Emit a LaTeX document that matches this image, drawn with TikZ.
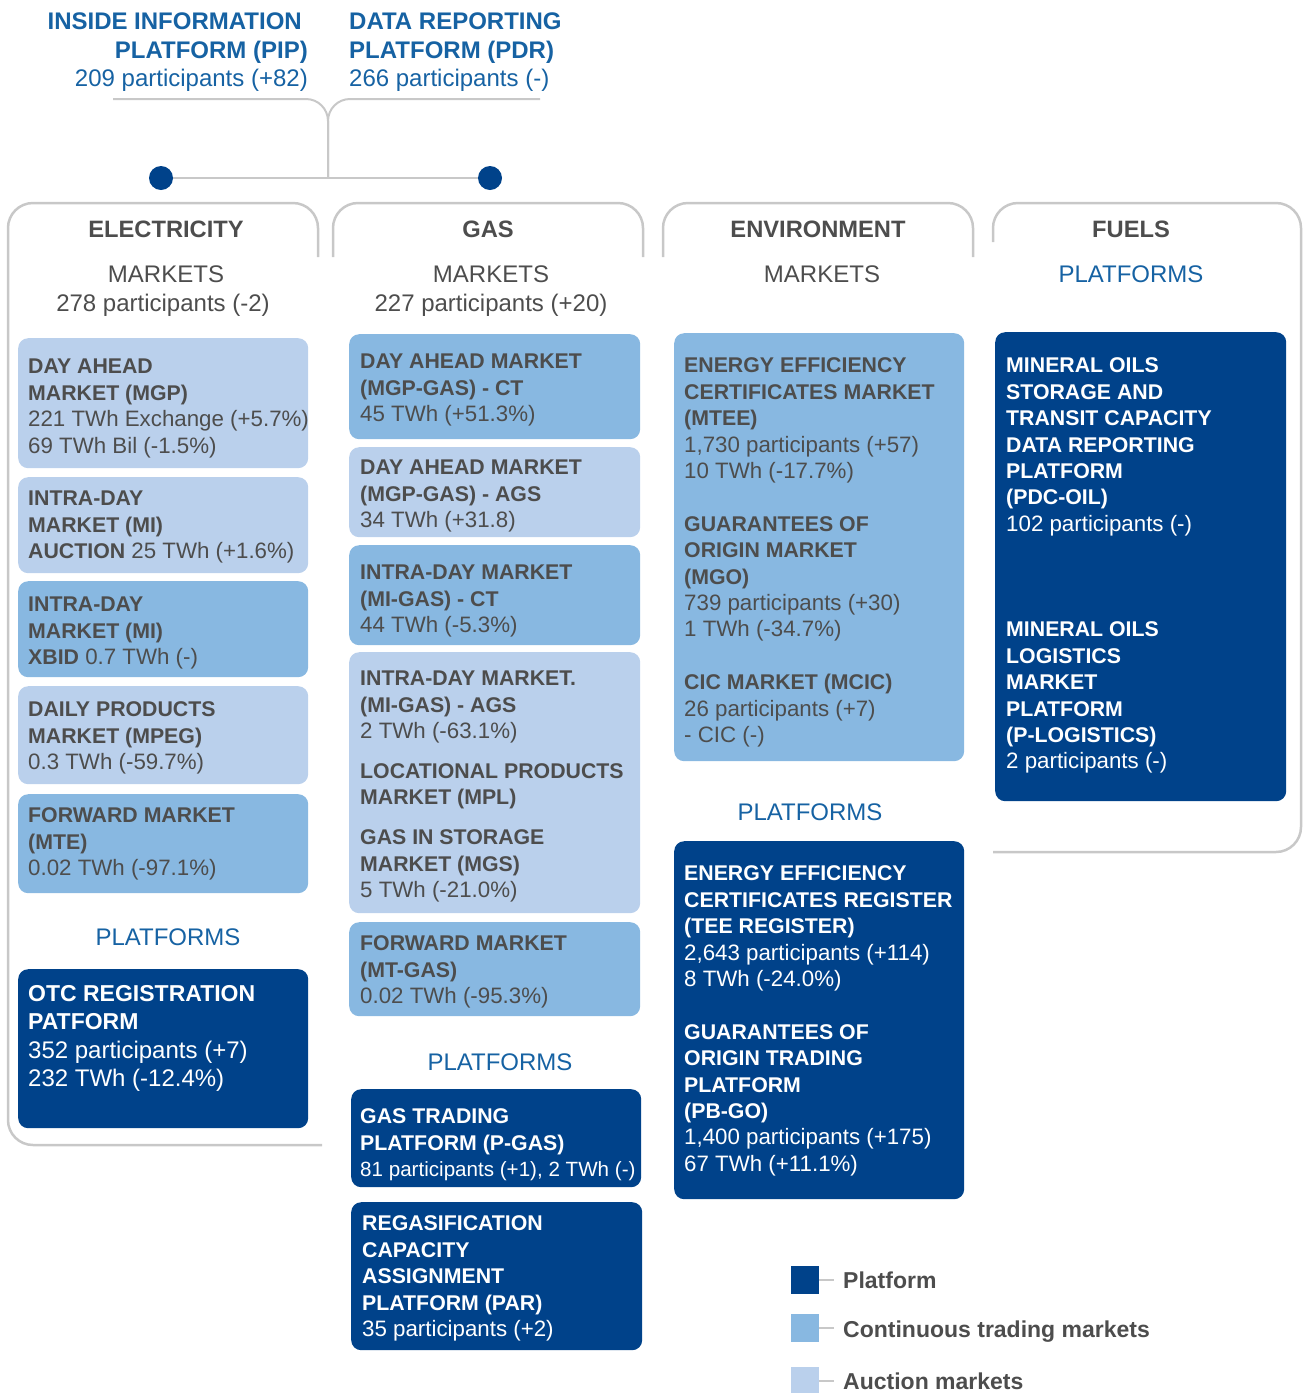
\documentclass[tikz,border=0pt]{standalone}
\usepackage{fontspec}
\setmainfont{Liberation Sans}
\definecolor{cPlat}{RGB}{0,66,138}
\definecolor{cCont}{RGB}{136,184,225}
\definecolor{cAuc}{RGB}{186,208,236}
\definecolor{cGray}{RGB}{77,77,77}
\definecolor{cBlue}{RGB}{22,98,163}
\definecolor{cLine}{RGB}{200,200,200}
\newcommand\tstr{\rule{0pt}{20pt}}
\newcommand\hb[1]{{\fontsize{21.3}{26.4}\selectfont\bfseries #1}}
\newcommand\hbb[1]{{\fontsize{23}{28.3}\selectfont\bfseries #1}}
\tikzset{
  mbox/.style={rounded corners=10pt, inner sep=0pt, anchor=north west, draw=none},
  plat/.style={mbox, fill=cPlat},
  cont/.style={mbox, fill=cCont},
  auc/.style={mbox, fill=cAuc},
  btxt/.style={anchor=north west, inner sep=0pt, align=left, text=cGray, font=\fontsize{22.3}{26.4}\selectfont},
  wtxt/.style={btxt, text=white},
  frame/.style={draw=cLine, line width=2.5pt, rounded corners=25pt},
  tree/.style={draw=cLine, line width=2pt},
  dot/.style={circle, fill=cPlat, minimum size=24pt, inner sep=0pt},
  colhead/.style={anchor=base, inner sep=0pt, text=cGray, font=\fontsize{23.7}{28}\selectfont\bfseries},
  colsub/.style={anchor=base, inner sep=0pt, text=cGray, font=\fontsize{24}{28}\selectfont},
  bluesub/.style={anchor=base, inner sep=0pt, text=cBlue, font=\fontsize{24}{28}\selectfont},
  toptxt/.style={inner sep=0pt, text=cBlue, font=\fontsize{24}{28.5}\selectfont},
  lsq/.style={minimum size=28pt, inner sep=0pt},
  legtxt/.style={anchor=base west, inner sep=0pt, text=cGray, font=\fontsize{23}{28}\selectfont\bfseries}
}
\begin{document}
\begin{tikzpicture}[x=1pt,y=-1pt]
\useasboundingbox (0,0) rectangle (1303,1393);

% ---------- top platforms ----------
\node[toptxt, anchor=north east, align=right] (pip) at (308,9.6)
  {\tstr\textbf{INSIDE INFORMATION}\hspace*{6pt}\\ \textbf{PLATFORM (PIP)}\\ 209 participants (+82)};
\node[toptxt, anchor=north west, align=left] (pdr) at (349,9.6)
  {\tstr\textbf{DATA REPORTING}\\ \textbf{PLATFORM (PDR)}\\ 266 participants (-)};
\coordinate (pipEnd) at (113,99);
\coordinate (pdrEnd) at (540,99);
\coordinate (hub) at (328,178);
\node[dot] (dotE) at (161,178) {};
\node[dot] (dotG) at (490,178) {};
\draw[tree, rounded corners=22pt] (pipEnd) -- (328,99) -- (hub);
\draw[tree, rounded corners=22pt] (pdrEnd) -- (328,99) -- (hub);
\draw[tree] (dotE) -- (dotG);

% ---------- column frames ----------
\draw[frame] (318,257) -- (318,203) -- (8,203) -- (8,1145) -- (322,1145);
\draw[frame] (333,257) -- (333,203) -- (643,203) -- (643,257);
\draw[frame] (663,257) -- (663,203) -- (973,203) -- (973,257);
\draw[frame] (993,242) -- (993,203) -- (1301,203) -- (1301,852) -- (993,852);

% ---------- column headers ----------
\node[colhead] (hE) at (166,237.5) {ELECTRICITY};
\node[colhead] (hG) at (488,237.5) {GAS};
\node[colhead] (hV) at (818,237.5) {ENVIRONMENT};
\node[colhead] (hF) at (1131,237.5) {FUELS};
\node[colsub] (mE) at (166,282.6) {MARKETS};
\node[colsub] (mG) at (491,282.6) {MARKETS};
\node[colsub] (mV) at (822,282.6) {MARKETS};
\node[bluesub] (pF) at (1131,282.6) {PLATFORMS};
\node[colsub] (nE) at (163,311.6) {278 participants (-2)};
\node[colsub] (nG) at (491,311.6) {227 participants (+20)};

% ---------- electricity ----------
\node[auc, minimum width=290, minimum height=130] (e1) at (18,338) {};
\node[btxt] (e1t) at (28,353.6) {\tstr\hb{DAY AHEAD}\\ \hb{MARKET (MGP)}\\ 221 TWh Exchange (+5.7\%)\\ 69 TWh Bil (-1.5\%)};
\node[auc, minimum width=290, minimum height=96] (e2) at (18,477) {};
\node[btxt] (e2t) at (28,485.6) {\tstr\hb{INTRA-DAY}\\ \hb{MARKET (MI)}\\ \hb{AUCTION} 25 TWh (+1.6\%)};
\node[cont, minimum width=290, minimum height=96] (e3) at (18,581) {};
\node[btxt] (e3t) at (28,591.6) {\tstr\hb{INTRA-DAY}\\ \hb{MARKET (MI)}\\ \hb{XBID} 0.7 TWh (-)};
\node[auc, minimum width=290, minimum height=98] (e4) at (18,686) {};
\node[btxt] (e4t) at (28,696.6) {\tstr\hb{DAILY PRODUCTS}\\ \hb{MARKET (MPEG)}\\ 0.3 TWh (-59.7\%)};
\node[cont, minimum width=290, minimum height=99] (e5) at (18,794) {};
\node[btxt] (e5t) at (28,802.6) {\tstr\hb{FORWARD MARKET}\\ \hb{(MTE)}\\ 0.02 TWh (-97.1\%)};
\node[bluesub] (plE) at (168,945.6) {PLATFORMS};
\node[plat, minimum width=290, minimum height=159] (e6) at (18,969) {};
\node[wtxt, font=\fontsize{24}{28.3}\selectfont] (e6t) at (28,981.2) {\tstr\hbb{OTC REGISTRATION}\\ \hbb{PATFORM}\\ 352 participants (+7)\\ 232 TWh (-12.4\%)};

% ---------- gas ----------
\node[cont, minimum width=291, minimum height=105] (g1) at (349,334) {};
\node[btxt] (g1t) at (360,348.6) {\tstr\hb{DAY AHEAD MARKET}\\ \hb{(MGP-GAS) - CT}\\ 45 TWh (+51.3\%)};
\node[auc, minimum width=291, minimum height=90] (g2) at (349,447) {};
\node[btxt] (g2t) at (360,454.6) {\tstr\hb{DAY AHEAD MARKET}\\ \hb{(MGP-GAS) - AGS}\\ 34 TWh (+31.8)};
\node[cont, minimum width=291, minimum height=100] (g3) at (349,545) {};
\node[btxt] (g3t) at (360,559.6) {\tstr\hb{INTRA-DAY MARKET}\\ \hb{(MI-GAS) - CT}\\ 44 TWh (-5.3\%)};
\node[auc, minimum width=291, minimum height=261] (g4) at (349,652) {};
\node[btxt] (g4t) at (360,665.6) {\tstr\hb{INTRA-DAY MARKET.}\\ \hb{(MI-GAS) - AGS}\\ 2 TWh (-63.1\%)\\[13.5pt] \hb{LOCATIONAL PRODUCTS}\\ \hb{MARKET (MPL)}\\[13.5pt] \hb{GAS IN STORAGE}\\ \hb{MARKET (MGS)}\\ 5 TWh (-21.0\%)};
\node[cont, minimum width=291, minimum height=94] (g5) at (349,922) {};
\node[btxt] (g5t) at (360,930.6) {\tstr\hb{FORWARD MARKET}\\ \hb{(MT-GAS)}\\ 0.02 TWh (-95.3\%)};
\node[bluesub] (plG) at (500,1070.6) {PLATFORMS};
\node[plat, minimum width=290, minimum height=98] (g6) at (351,1089) {};
\node[wtxt] (g6t) at (360,1103.6) {\tstr\hb{GAS TRADING}\\ \hb{PLATFORM (P-GAS)}\\ {\fontsize{20.6}{26.4}\selectfont 81 participants (+1), 2 TWh (-)}};
\node[plat, minimum width=291, minimum height=148] (g7) at (351,1202) {};
\node[wtxt] (g7t) at (362,1210.6) {\tstr\hb{REGASIFICATION}\\ \hb{CAPACITY}\\ \hb{ASSIGNMENT}\\ \hb{PLATFORM (PAR)}\\ 35 participants (+2)};

% ---------- environment ----------
\node[cont, minimum width=290, minimum height=428] (v1) at (674,333) {};
\node[btxt] (v1t) at (684,352.6) {\tstr\hb{ENERGY EFFICIENCY}\\ \hb{CERTIFICATES MARKET}\\ \hb{(MTEE)}\\ 1,730 participants (+57)\\ 10 TWh (-17.7\%)\\[26.4pt] \hb{GUARANTEES OF}\\ \hb{ORIGIN MARKET}\\ \hb{(MGO)}\\ 739 participants (+30)\\ 1 TWh (-34.7\%)\\[26.4pt] \hb{CIC MARKET (MCIC)}\\ 26 participants (+7)\\ - CIC (-)};
\node[bluesub] (plV) at (810,820.6) {PLATFORMS};
\node[plat, minimum width=290, minimum height=358] (v2) at (674,841) {};
\node[wtxt] (v2t) at (684,860.6) {\tstr\hb{ENERGY EFFICIENCY}\\ \hb{CERTIFICATES REGISTER}\\ \hb{(TEE REGISTER)}\\ 2,643 participants (+114)\\ 8 TWh (-24.0\%)\\[26.4pt] \hb{GUARANTEES OF}\\ \hb{ORIGIN TRADING}\\ \hb{PLATFORM}\\ \hb{(PB-GO)}\\ 1,400 participants (+175)\\ 67 TWh (+11.1\%)};

% ---------- fuels ----------
\node[plat, minimum width=291, minimum height=469] (f1) at (995,332) {};
\node[wtxt] (f1t) at (1006,352.6) {\tstr\hb{MINERAL OILS}\\ \hb{STORAGE AND}\\ \hb{TRANSIT CAPACITY}\\ \hb{DATA REPORTING}\\ \hb{PLATFORM}\\ \hb{(PDC-OIL)}\\ 102 participants (-)\\[79.2pt] \hb{MINERAL OILS}\\ \hb{LOGISTICS}\\ \hb{MARKET}\\ \hb{PLATFORM}\\ \hb{(P-LOGISTICS)}\\ 2 participants (-)};

% ---------- legend ----------
\node[lsq, fill=cPlat] (lg1) at (805,1280) {};
\node[lsq, fill=cCont] (lg2) at (805,1328) {};
\node[lsq, fill=cAuc] (lg3) at (805,1381) {};
\node[legtxt] (lt1) at (843,1288.2) {Platform};
\node[legtxt] (lt2) at (843,1337.2) {Continuous trading markets};
\node[legtxt] (lt3) at (843,1389) {Auction markets};
\coordinate (lc1) at (834,1280);
\coordinate (lc2) at (834,1328);
\coordinate (lc3) at (834,1381);
\draw[tree, line width=1.5pt] (lg1.east) -- (lc1);
\draw[tree, line width=1.5pt] (lg2.east) -- (lc2);
\draw[tree, line width=1.5pt] (lg3.east) -- (lc3);
\end{tikzpicture}
\end{document}
